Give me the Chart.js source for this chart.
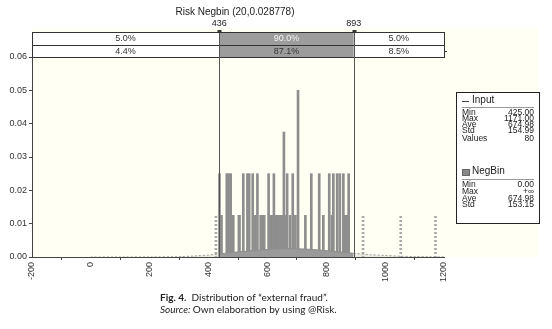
<!DOCTYPE html>
<html>
<head>
<meta charset="utf-8">
<script src="https://cdn.jsdelivr.net/npm/chart.js@4.4.1/dist/chart.umd.min.js"></script>
<style>
  body { margin: 0; background: #fff; }
  #wrap { width: 552px; height: 329px; }
</style>
</head>
<body>
<div id="wrap"><canvas id="fraudChart" width="552" height="329"></canvas></div>
<script>
// input sample (80 values): distinct value and how many times it occurs
const inputValues = [425, 437, 441, 444, 462, 468, 475, 484, 503, 505, 518, 532, 538, 550, 559, 566,
  577, 586, 589, 604, 611, 614, 618, 622, 629, 632, 636, 642, 649, 656, 660, 667, 677, 686, 695, 704,
  729, 749, 776, 790, 810, 819, 822, 824, 837, 846, 858, 862, 867, 872, 876, 925, 1053, 1171];
const inputCounts = [1, 2, 1, 1, 2, 2, 2, 1, 1, 1, 2, 2, 2, 2, 1, 2,
  1, 1, 1, 2, 1, 1, 1, 2, 1, 1, 1, 1, 1, 3, 1, 2, 1, 2, 1, 4,
  1, 2, 2, 1, 2, 1, 1, 2, 2, 2, 2, 1, 1, 1, 2, 1, 1, 1];

// fitted NegBin density
const curveX = [0, 100, 200, 300, 350, 400, 436, 475, 525, 575, 625, 675, 725, 775, 825, 893,
  950, 1000, 1050, 1100, 1150, 1200];
const curveY = [0, 0, 0.00002, 0.0001, 0.0003, 0.0006, 0.0009, 0.0013, 0.0017, 0.0021, 0.0024, 0.0025,
  0.0024, 0.0021, 0.0017, 0.0011, 0.0007, 0.00045, 0.00025, 0.00013, 0.00006, 0.00003];

const xTicks = [-200, 0, 200, 400, 600, 800, 1000, 1200];
const yTicks = [0.00, 0.01, 0.02, 0.03, 0.04, 0.05, 0.06];

const leftMark = 436;
const rightMark = 893;
const bandTop = ['5.0%', '90.0%', '5.0%'];
const bandBottom = ['4.4%', '87.1%', '8.5%'];
const inputStats = [['Min', '425.00'], ['Max', '1171.00'], ['Ave', '674.98'], ['Std', '154.99'], ['Values', '80']];
const negbinStats = [['Min', '0.00'], ['Max', '+\u221e'], ['Ave', '674.98'], ['Std', '153.15']];

const FONT = '"Liberation Sans", Arial, sans-serif';
const totalCount = inputCounts.reduce((a, b) => a + b, 0);

// light dashed fill for the parts outside the 436..893 band
const pc = document.createElement('canvas');
pc.width = 2; pc.height = 4;
const pctx = pc.getContext('2d');
pctx.fillStyle = '#a8a8a8';
pctx.fillRect(0, 0, 2, 2);
const dashPattern = pctx.createPattern(pc, 'repeat');

const barData = inputValues.map((v, i) => ({ x: v, y: inputCounts[i] / totalCount }));
const inBand = v => v >= leftMark && v <= rightMark;

const curveLeft = [], curveMid = [], curveRight = [];
curveX.forEach((x, i) => {
    const p = { x: x, y: curveY[i] };
    if (x <= leftMark) curveLeft.push(p);
    if (x >= leftMark && x <= rightMark) curveMid.push(p);
    if (x >= rightMark) curveRight.push(p);
});

const overlay = {
    id: 'overlay',
    beforeDraw(chart) {
        const c = chart.ctx;
        c.save();
        c.fillStyle = '#fffff3';
        c.fillRect(chart.chartArea.left, 28, 538 - chart.chartArea.left, chart.chartArea.bottom - 28);
        c.restore();
    },
    afterDraw(chart) {
        const c = chart.ctx;
        const xs = chart.scales.x;
        const a = chart.chartArea;
        const xl = xs.getPixelForValue(leftMark);
        const xr = xs.getPixelForValue(rightMark);
        const r1 = a.top - 25, r2 = a.top - 12.5;
        c.save();

        // band boxes
        c.fillStyle = '#fff';
        c.fillRect(a.left, r1, a.right - a.left, a.top - r1);
        c.fillStyle = '#9c9c9c';
        c.fillRect(xl, r1, xr - xl, a.top - r1);
        c.strokeStyle = '#333';
        c.lineWidth = 1;
        c.strokeRect(Math.round(a.left) + 0.5, Math.round(r1) + 0.5, Math.round(a.right - a.left), Math.round(a.top - r1));
        c.beginPath();
        c.moveTo(a.left, Math.round(r2) + 0.5); c.lineTo(a.right, Math.round(r2) + 0.5);
        c.moveTo(a.right, Math.round(r2) + 6.5); c.lineTo(a.right + 3, Math.round(r2) + 6.5);
        c.stroke();

        // vertical markers
        c.strokeStyle = '#555';
        c.beginPath();
        [xl, xr].forEach(x => {
            c.moveTo(Math.round(x) + 0.5, r1);
            c.lineTo(Math.round(x) + 0.5, a.bottom);
        });
        c.stroke();
        c.fillStyle = '#333';
        [xl, xr].forEach(x => {
            c.fillRect(Math.round(x) - 1.5, r1 - 2, 4, 3);
        });

        c.font = '9px ' + FONT;
        c.textAlign = 'center';
        c.textBaseline = 'middle';
        const segs = [[a.left, xl], [xl, xr], [xr, a.right]];
        segs.forEach((s, i) => {
            const mx = (s[0] + s[1]) / 2;
            c.fillStyle = i === 1 ? '#f4f4f4' : '#333';
            c.fillText(bandTop[i], mx, (r1 + r2) / 2 + 0.5);
            c.fillStyle = '#333';
            c.fillText(bandBottom[i], mx, (r2 + a.top) / 2 + 0.5);
        });
        c.fillStyle = '#222';
        c.fillText(String(leftMark), xl, 24);
        c.fillText(String(rightMark), xr, 24);

        // title
        c.font = '10px ' + FONT;
        c.fillText('Risk Negbin (20,0.028778)', 235, 12.5);

        // stats legend
        const lx = 456, ly = 92, lw = 83, lh = 131;
        c.fillStyle = '#fff';
        c.fillRect(lx, ly, lw, lh);
        c.strokeStyle = '#222';
        c.strokeRect(lx + 0.5, ly + 0.5, lw, lh);
        c.textAlign = 'left';
        c.font = '10px ' + FONT;
        c.fillStyle = '#444';
        c.fillRect(lx + 6, ly + 9, 7, 1);
        c.fillStyle = '#222';
        c.fillText('Input', lx + 16, ly + 8);
        c.fillStyle = '#999';
        c.fillRect(lx + 6, ly + 15, lw - 11, 1);
        c.fillStyle = '#888';
        c.fillRect(lx + 6, ly + 77, 8, 7);
        c.strokeStyle = '#666';
        c.strokeRect(lx + 6.5, ly + 77.5, 7, 6);
        c.fillStyle = '#222';
        c.fillText('NegBin', lx + 16, ly + 79);
        c.fillStyle = '#999';
        c.fillRect(lx + 6, ly + 87, lw - 11, 1);
        c.font = '8.5px ' + FONT;
        c.fillStyle = '#222';
        inputStats.forEach((r, i) => {
            const y = ly + 20.5 + i * 6.1 + (i === 4 ? 2 : 0);
            c.textAlign = 'left'; c.fillText(r[0], lx + 6, y);
            c.textAlign = 'right'; c.fillText(r[1], lx + lw - 5, y);
        });
        negbinStats.forEach((r, i) => {
            const y = ly + 93 + i * 6.6;
            c.textAlign = 'left'; c.fillText(r[0], lx + 6, y);
            c.textAlign = 'right'; c.fillText(r[1], lx + lw - 5, y);
        });

        // caption
        c.textAlign = 'left';
        c.fillStyle = '#222';
        c.font = 'bold 10px Lato, sans-serif';
        c.fillText('Fig. 4.', 160, 298);
        let w = c.measureText('Fig. 4.').width;
        c.font = '10px Lato, sans-serif';
        c.fillText('  Distribution of \u201cexternal fraud\u201d.', 160 + w, 298);
        c.font = 'italic 10px Lato, sans-serif';
        c.fillText('Source:', 160, 310);
        w = c.measureText('Source: ').width;
        c.font = '10px Lato, sans-serif';
        c.fillText('Own elaboration by using @Risk.', 160 + w, 310);
        c.restore();
    }
};

new Chart(document.getElementById('fraudChart'), {
    type: 'bar',
    data: {
        datasets: [
            {
                type: 'bar',
                label: 'Input',
                data: barData,
                barThickness: 2,
                backgroundColor: ctx => inBand(ctx.raw.x) ? '#8e8e8e' : dashPattern,
                borderWidth: 0,
                order: 2
            },
            {
                type: 'line',
                label: 'NegBin',
                data: curveMid,
                borderColor: '#8e8e8e',
                backgroundColor: '#9a9a9a',
                borderWidth: 1,
                fill: 'origin',
                pointRadius: 0,
                tension: 0.3,
                order: 1
            },
            {
                type: 'line',
                data: curveLeft,
                borderColor: '#9a9a9a',
                backgroundColor: 'rgba(170,170,170,0.25)',
                borderDash: [2, 2],
                borderWidth: 1,
                fill: 'origin',
                pointRadius: 0,
                tension: 0.3,
                order: 1
            },
            {
                type: 'line',
                data: curveRight,
                borderColor: '#9a9a9a',
                backgroundColor: 'rgba(170,170,170,0.25)',
                borderDash: [2, 2],
                borderWidth: 1,
                fill: 'origin',
                pointRadius: 0,
                tension: 0.3,
                order: 1
            }
        ]
    },
    options: {
        responsive: false,
        animation: false,
        layout: { padding: { top: 57, right: 108, left: 0, bottom: 0 } },
        plugins: { legend: { display: false }, tooltip: { enabled: false } },
        scales: {
            x: {
                type: 'linear',
                min: -200,
                max: 1200,
                offset: false,
                afterFit: s => { s.height = 72; },
                afterBuildTicks: s => { s.ticks = xTicks.map(v => ({ value: v })); },
                ticks: {
                    minRotation: 90,
                    maxRotation: 90,
                    font: { family: FONT, size: 9 },
                    color: '#333',
                    padding: 2,
                    callback: v => String(v)
                },
                grid: { drawOnChartArea: false, tickLength: 3, color: '#444' },
                border: { color: '#444', width: 1 }
            },
            y: {
                min: 0,
                max: 0.06,
                afterFit: s => { s.width = 32; },
                afterBuildTicks: s => { s.ticks = yTicks.map(v => ({ value: v })); },
                ticks: {
                    font: { family: FONT, size: 9 },
                    color: '#333',
                    padding: 2,
                    callback: v => v.toFixed(2)
                },
                grid: { drawOnChartArea: false, tickLength: 3, color: '#444' },
                border: { color: '#444', width: 1 }
            }
        }
    },
    plugins: [overlay]
});
</script>
</body>
</html>
